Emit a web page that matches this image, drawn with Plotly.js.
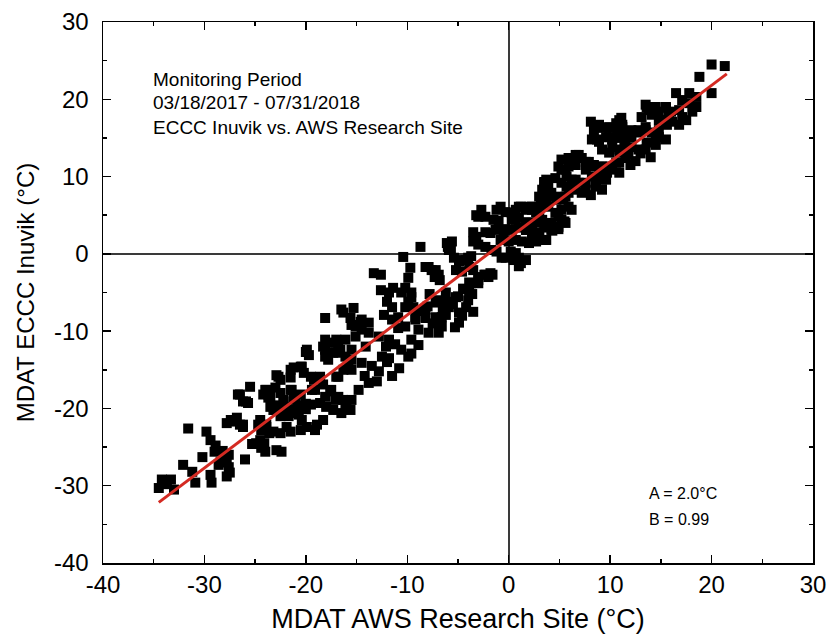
<!DOCTYPE html>
<html>
<head>
<meta charset="utf-8">
<script src="https://cdn.plot.ly/plotly-3.0.1.min.js"></script>
<style>html,body{margin:0;padding:0;background:#fff;}#chart{width:832px;height:643px;}</style>
</head>
<body>
<div id="chart"></div>
<script>
// ---- Data: MDAT AWS Research Site (x) vs MDAT ECCC Inuvik (y), °C ----
var xColdest = [-34.5,-34.2,-33.7,-33.3,-33.0,-32.1,-31.6,-30.9,-30.2,-29.8,-29.4,-29.0,-29.4,-29.3,-28.6,-28.4,-27.9,-27.6,-27.8,-27.6,
  -27.8,-27.1,-26.5,-26.0,-26.2,-26.5,-25.9,-25.5,-26.7,-26.2,-25.7,-28.2,-27.8,-27.5,-27.4,-26.8,-26.2,-31.2,-28.9,-25.3];
var yColdest = [-30.3,-29.2,-29.8,-29.2,-30.5,-27.3,-22.6,-29.6,-26.3,-23.0,-24.1,-25.6,-28.6,-29.6,-27.3,-26.9,-26.4,-27.6,-28.8,-26.0,
  -21.9,-21.7,-22.1,-26.6,-22.4,-18.2,-19.1,-17.2,-18.2,-19.1,-19.3,-25.5,-27.0,-28.3,-21.5,-21.2,-22.1,-28.2,-24.8,-24.6];

var xCold = [-24.5,-24.4,-24.0,-24.4,-23.9,-23.7,-24.2,-23.9,-23.5,-22.7,-23.0,-21.5,-21.4,-21.0,-22.0,-21.7,-20.4,-19.1,-20.4,-19.9,
  -19.5,-19.1,-20.0,-23.6,-24.1,-22.9,-22.4,-24.9,-23.2,-22.5,-21.9,-22.9,-22.5,-21.2,-20.5,-20.2,-21.5,-24.5,-23.0,-22.2,
  -20.8,-21.3,-20.7,-20.0,-23.5,-22.9,-22.2,-21.5,-20.9,-20.2,-24.0,-23.7,-22.5,-22.2,-21.5,-21.2,-20.5,-24.7,-23.9,-23.2,
  -22.5,-21.5,-20.5];
var yCold = [-24.1,-25.1,-25.6,-22.8,-22.1,-18.2,-18.2,-17.6,-18.5,-15.9,-17.3,-15.0,-17.6,-18.9,-19.8,-21.0,-21.5,-22.8,-14.6,-12.4,
  -15.9,-17.6,-19.4,-23.2,-24.5,-25.4,-25.6,-24.5,-20.2,-21.0,-22.4,-15.7,-16.3,-14.7,-14.6,-15.4,-16.0,-21.5,-19.6,-18.9,
  -19.6,-20.4,-20.8,-20.1,-19.8,-20.2,-19.8,-20.2,-20.6,-19.9,-17.6,-18.6,-18.0,-19.1,-17.6,-18.6,-18.2,-22.1,-22.4,-23.0,
  -23.2,-23.0,-22.8];

var xCool = [-18.1,-16.5,-15.3,-18.1,-16.8,-17.8,-16.1,-15.1,-14.5,-16.8,-15.5,-14.5,-16.1,-16.5,-15.5,-17.5,-18.1,-17.1,-14.8,-13.8,
  -20.0,-19.7,-18.3,-17.6,-17.0,-18.1,-17.3,-16.6,-16.3,-15.6,-19.4,-19.2,-18.6,-18.3,-17.0,-16.3,-15.8,-15.5,-17.6,-16.8,
  -16.3,-16.0,-15.6,-19.5,-18.6,-18.0,-17.3,-19.9,-18.9,-18.3];
var yCool = [-8.3,-7.2,-7.0,-12.4,-12.0,-13.7,-13.3,-9.4,-8.5,-15.9,-15.0,-14.1,-19.8,-20.6,-18.9,-17.6,-18.5,-18.9,-17.6,-16.7,
  -12.7,-13.1,-12.0,-11.5,-11.1,-13.3,-12.8,-12.4,-7.6,-8.3,-17.6,-16.3,-15.9,-16.9,-15.9,-15.0,-14.4,-13.7,-17.8,-18.5,
  -18.9,-19.8,-20.2,-19.5,-19.3,-19.8,-20.2,-22.4,-22.1,-21.5];

var xChill = [-13.3,-12.6,-12.6,-11.8,-11.4,-10.2,-9.6,-12.0,-11.5,-9.9,-9.4,-15.5,-14.6,-13.8,-12.3,-11.5,-10.9,-10.9,-10.2,-18.1,
  -17.1,-16.1,-15.1,-14.5,-13.8,-16.8,-15.5,-14.1,-12.8,-11.8,-12.1,-11.2,-10.6,-11.8,-9.9,-9.6,-13.5,-12.8,-12.0,-13.0,
  -11.5,-10.8,-14.2,-12.5,-10.6,-9.6,-10.2,-9.2,-8.2,-7.2];
var yChill = [-2.5,-2.7,-4.7,-5.0,-4.4,-4.4,-5.0,-6.2,-6.9,-6.2,-6.9,-9.2,-8.8,-8.9,-7.9,-8.5,-8.2,-9.6,-9.4,-11.1,
  -11.5,-11.1,-10.7,-9.8,-10.2,-12.8,-12.4,-12.0,-10.7,-11.1,-12.0,-11.7,-12.4,-13.5,-13.3,-12.9,-14.5,-15.2,-14.0,-16.5,
  -15.8,-14.8,-15.8,-13.3,-5.0,-5.6,-6.9,-8.2,-7.2,-6.3];

var xNearFreeze = [-8.7,-10.4,-6.1,-9.7,-9.9,-7.9,-7.2,-6.9,-6.2,-6.1,-9.2,-8.2,-7.2,-6.2,-8.9,-7.9,-9.6,-8.9,-5.6,-5.9,
  -8.2,-7.6,-7.3,-6.8,-7.8,-7.0,-8.0,-6.5,-5.5,-5.0,-9.0,-7.5,-6.6,-5.9,-5.2,-4.9,-3.9,-3.7,-3.0,-4.2,
  -6.9,-6.6,-4.9,-4.5,-4.0,-3.5,-4.6,-5.3,-3.6];
var yNearFreeze = [0.9,-0.4,1.4,-1.8,-3.1,-1.7,-2.1,-2.7,-5.0,-6.2,-8.5,-8.3,-8.2,-7.9,-9.8,-10.2,-11.1,-11.8,1.6,0.5,
  -1.7,-2.1,-3.0,-3.4,-5.2,-6.0,-6.8,-7.0,-6.5,-5.5,-7.4,-9.0,-8.2,-6.9,-5.6,-7.6,-5.0,-3.8,-3.4,-6.9,
  -10.2,-9.4,-8.9,-4.5,-6.0,-7.5,-8.0,-9.5,-5.2];

var xFreeze = [-5.4,-4.9,-4.2,-5.2,-4.6,-3.9,-3.5,-3.0,-2.3,-1.8,-3.9,-3.0,-2.0,-4.2,-3.5,-3.2,-2.3,-2.3,-3.0,-3.2,
  -2.7,-3.5,-3.0,-2.3,-1.7,-1.8,-1.3,-1.5,-0.8,-1.2,-0.3,-0.8,-0.5,-1.2,-0.7,-4.7,-4.0,-3.7,-2.4,-1.6,
  -1.0,-0.4,-6.0,-5.7];
var yFreeze = [-0.5,-1.0,-0.8,-2.1,-2.3,-1.7,-2.1,-3.0,-2.7,-2.5,-3.7,-3.8,-3.0,-4.6,2.8,2.2,2.8,4.8,4.8,5.0,
  5.7,1.6,1.2,0.9,0.5,2.7,3.1,4.4,6.1,5.7,5.4,1.8,2.2,0.3,-0.5,-0.8,-0.5,-0.3,-2.7,-2.7,
  4.3,3.2,0.9,0.5];

var xThaw = [0.7,1.2,2.0,2.7,0.3,1.0,1.7,2.3,3.0,0.3,1.0,1.7,2.3,0.0,0.7,1.3,2.0,2.7,0.2,0.7,
  1.0,1.7,1.2,0.5,3.0,3.5,3.7,3.2,3.6,3.6,3.5,2.3,3.0,3.6,4.3,4.9,5.5,2.3,3.2,3.7,
  3.5,4.1,4.7,4.9,5.6,5.7,5.2,5.9,6.6,6.2,1.7,2.3,3.0,3.7,4.2,4.9,5.6,-0.3,0.3,1.0];
var yThaw = [5.7,6.1,6.1,5.4,4.4,4.7,4.1,4.0,4.7,3.1,3.4,3.1,3.0,1.6,1.8,1.6,1.4,1.6,0.3,0.1,
  -0.5,-0.8,-1.2,-0.8,2.8,3.4,3.8,6.6,7.1,9.3,8.4,2.2,2.7,1.8,3.0,3.2,4.2,5.7,6.3,8.3,
  9.3,7.4,7.0,4.8,7.4,8.7,10.9,11.3,9.6,5.7,3.1,2.2,2.7,1.8,3.1,3.5,4.0,-0.5,-0.1,-1.6];

var xMild = [1.0,0.3,1.7,2.3,3.0,3.9,4.6,5.2,5.9,0.7,1.7,2.7,3.3,4.2,5.2,3.3,3.0,3.7,4.2,4.9,
  5.4,5.9,6.6,7.2,8.1,3.7,3.9,4.6,5.2,5.7,6.2,6.9,7.6,8.2,8.9,9.6,8.6,9.2,5.2,5.9,
  6.6,7.2,7.9,8.4,4.9,5.6,6.6,7.6,8.9,9.2,9.9,10.6];
var yMild = [6.1,5.3,5.7,6.1,5.3,6.1,5.3,5.7,6.1,4.4,4.0,4.1,4.4,4.0,4.4,8.3,7.4,7.0,7.9,7.4,
  7.0,7.9,8.3,7.9,7.6,9.6,8.9,9.8,9.2,10.0,9.6,9.2,9.2,10.0,9.8,9.6,8.7,8.3,12.2,12.4,
  12.8,12.4,11.9,11.5,11.3,10.9,11.5,10.9,11.3,10.6,11.3,11.8];

var xWarm = [8.1,8.9,8.4,9.9,10.6,11.1,8.2,8.9,9.9,10.9,11.4,10.2,10.9,11.4,3.5,6.2,7.6,8.6,9.2,9.7,
  6.2,6.9,7.6,8.2,9.2,10.2,10.9,11.5,10.9,9.2,8.7,10.9,11.2,10.7,11.5,12.1,12.8,13.5,14.1,13.6,
  14.0,14.5,14.8];
var yWarm = [17.1,16.7,16.0,16.4,16.9,17.6,14.8,14.5,15.1,15.7,15.1,13.8,13.5,13.8,9.2,8.7,8.3,8.9,9.6,10.5,
  12.2,12.8,11.9,11.3,11.3,10.9,11.8,12.4,10.5,16.3,14.8,17.3,16.4,15.7,15.8,15.1,16.0,16.4,15.7,14.4,
  12.5,14.8,16.0];

var xHot = [20.0,21.3,18.8,20.0,16.5,17.8,18.5,17.1,17.8,18.5,18.1,13.5,13.8,14.5,15.5,16.0,16.8,17.1,17.5,13.1,
  14.1,14.8,15.5,16.1,16.8,11.2,10.2,12.1,12.8,13.5,14.8,15.5,14.5,9.6,10.2,10.9,11.5,12.1,12.8,13.5,
  9.2,9.9,10.9,11.8,13.6,14.8,15.5,15.8,15.1,15.6,12.5,13.0,12.0];
var yHot = [24.5,24.3,22.9,20.8,20.8,20.8,20.3,19.9,19.5,19.0,18.4,19.3,18.6,19.0,18.9,18.4,18.6,17.7,17.3,17.7,
  18.0,17.3,17.0,17.1,16.7,16.7,16.3,16.0,15.7,16.0,15.1,14.8,14.1,15.1,14.8,15.0,14.4,13.8,13.5,13.5,
  13.5,13.1,13.1,12.8,19.0,18.4,19.0,18.2,17.3,16.7,12.0,13.0,11.5];

// Linear fit: y = A + B * x
var fitA = 2.0;
var fitB = 0.99;
var fitXRange = [-34.5, 21.5];

// Axis ticks
var xTickVals = [-40,-30,-20,-10,0,10,20,30];
var xTickText = ['-40','-30','-20','-10','0','10','20','30'];
var yTickVals = [-40,-30,-20,-10,0,10,20,30];
var yTickText = ['-40','-30','-20','-10','0','10','20','30'];
var xMinorVals = [-35,-25,-15,-5,5,15,25];
var yMinorVals = [-35,-25,-15,-5,5,15,25];

var allX = [].concat(xColdest, xCold, xCool, xChill, xNearFreeze, xFreeze, xThaw, xMild, xWarm, xHot);
var allY = [].concat(yColdest, yCold, yCool, yChill, yNearFreeze, yFreeze, yThaw, yMild, yWarm, yHot);
var fitY = fitXRange.map(function(x){ return fitA + fitB * x; });

var FONT = 'Liberation Sans, Arial, Helvetica, sans-serif';

var traces = [
  {x: allX, y: allY, type: 'scatter', mode: 'markers',
   marker: {symbol: 'square', size: 10, color: '#000', line: {width: 0}}, hoverinfo: 'x+y'},
  {x: fitXRange, y: fitY, type: 'scatter', mode: 'lines',
   line: {color: '#d42a22', width: 3}, hoverinfo: 'skip'}
];

function axisCommon() {
  return {
    ticks: 'inside', ticklen: 8, tickwidth: 1.5, tickcolor: '#000',
    showline: true, linecolor: '#000', linewidth: 1.5, mirror: 'ticks',
    showgrid: false, zeroline: true, zerolinecolor: '#3a3a3a', zerolinewidth: 1.8,
    tickfont: {family: FONT, size: 24, color: '#000'},
    fixedrange: true
  };
}

var xaxis = axisCommon();
xaxis.range = [-40, 30];
xaxis.tickmode = 'array';
xaxis.tickvals = xTickVals;
xaxis.ticktext = xTickText;
xaxis.minor = {tickmode: 'array', tickvals: xMinorVals, ticks: 'inside', ticklen: 4, tickwidth: 1.5, tickcolor: '#000', showgrid: false};
xaxis.title = {text: 'MDAT AWS Research Site (°C)', font: {family: FONT, size: 27, color: '#000'}, standoff: 12};

var yaxis = axisCommon();
yaxis.range = [-40, 30];
yaxis.tickmode = 'array';
yaxis.tickvals = yTickVals;
yaxis.ticktext = yTickText;
yaxis.ticklabelstandoff = 8;
yaxis.minor = {tickmode: 'array', tickvals: yMinorVals, ticks: 'inside', ticklen: 4, tickwidth: 1.5, tickcolor: '#000', showgrid: false};
yaxis.title = {text: 'MDAT ECCC Inuvik (°C)', font: {family: FONT, size: 24, color: '#000'}, standoff: 12};

var annFont = {family: FONT, size: 19, color: '#000'};
var layout = {
  width: 832, height: 643,
  margin: {l: 103, r: 19, t: 22, b: 80},
  paper_bgcolor: '#fff', plot_bgcolor: '#fff',
  showlegend: false,
  xaxis: xaxis, yaxis: yaxis,
  annotations: [
    {xref: 'paper', yref: 'paper', x: 0.068, y: 0.894, xanchor: 'left', yanchor: 'middle', showarrow: false, text: 'Monitoring Period', font: annFont},
    {xref: 'paper', yref: 'paper', x: 0.068, y: 0.851, xanchor: 'left', yanchor: 'middle', showarrow: false, text: '03/18/2017 - 07/31/2018', font: annFont},
    {xref: 'paper', yref: 'paper', x: 0.068, y: 0.805, xanchor: 'left', yanchor: 'middle', showarrow: false, text: 'ECCC Inuvik vs. AWS Research Site', font: annFont},
    {xref: 'paper', yref: 'paper', x: 0.766, y: 0.129, xanchor: 'left', yanchor: 'middle', showarrow: false, text: 'A = 2.0°C', font: {family: FONT, size: 16, color: '#000'}},
    {xref: 'paper', yref: 'paper', x: 0.766, y: 0.08, xanchor: 'left', yanchor: 'middle', showarrow: false, text: 'B = 0.99', font: {family: FONT, size: 16, color: '#000'}}
  ]
};

Plotly.newPlot('chart', traces, layout, {displayModeBar: false, staticPlot: true});
</script>
</body>
</html>
